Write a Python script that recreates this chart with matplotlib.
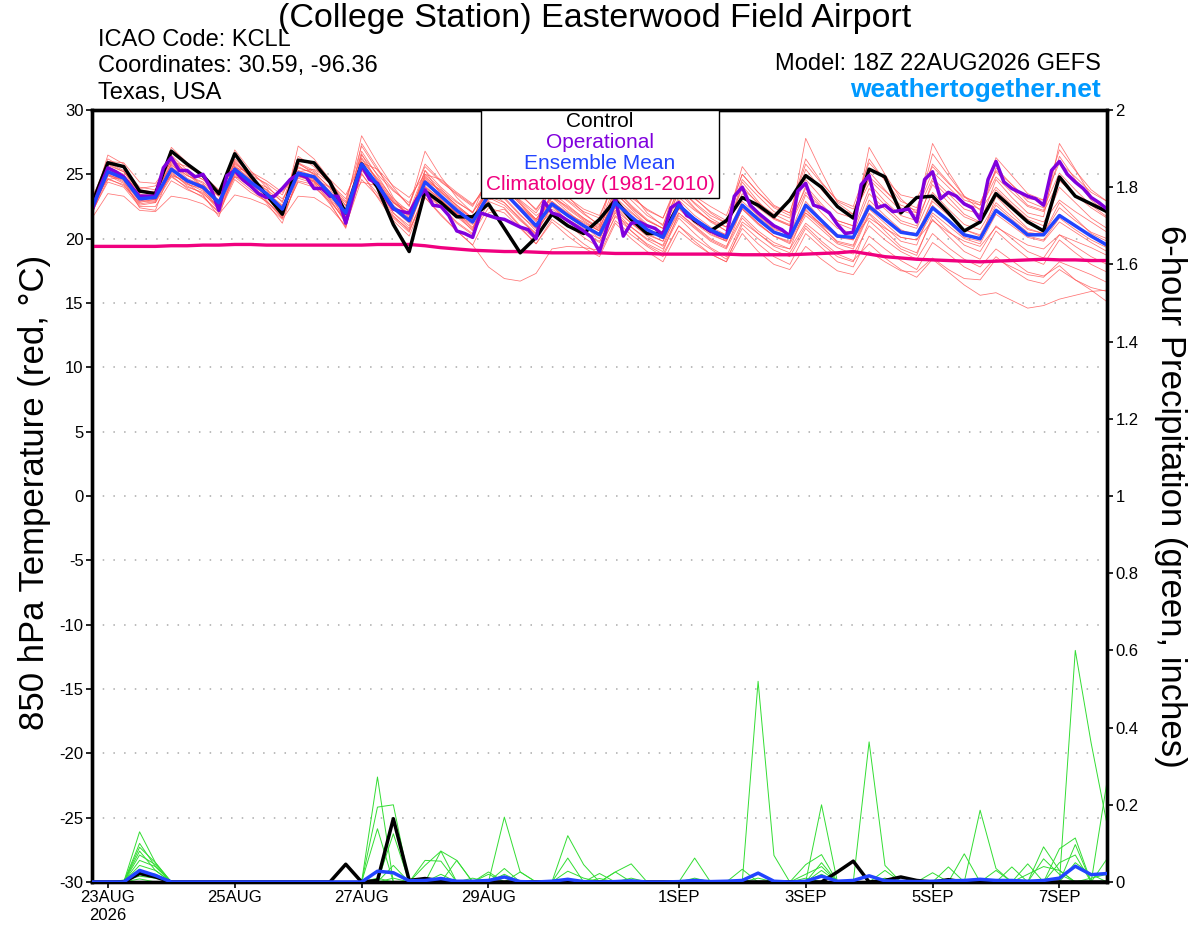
#!/usr/bin/env python3

import matplotlib
matplotlib.use("Agg")
import matplotlib.pyplot as plt
import pandas as pd
from matplotlib.patches import Rectangle

plt.rcParams["font.family"] = ["Liberation Sans", "DejaVu Sans"]

# GEFS run 18Z 22AUG2026, 6-hourly steps; operational run is 3-hourly
times = pd.date_range("2026-08-22 18:00", periods=65, freq="6h")
times_op = pd.date_range("2026-08-22 18:00", periods=129, freq="3h")

xtick_dates = ["2026-08-23", "2026-08-25", "2026-08-27", "2026-08-29",
               "2026-09-01", "2026-09-03", "2026-09-05", "2026-09-07"]
xtick_labels = ["23AUG\n2026", "25AUG", "27AUG", "29AUG",
                "1SEP", "3SEP", "5SEP", "7SEP"]
ytick_temp = [-30, -25, -20, -15, -10, -5, 0, 5, 10, 15, 20, 25, 30]
ytick_prcp = [0, 0.2, 0.4, 0.6, 0.8, 1.0, 1.2, 1.4, 1.6, 1.8, 2.0]
ytick_prcp_labels = ["0", "0.2", "0.4", "0.6", "0.8", "1",
                     "1.2", "1.4", "1.6", "1.8", "2"]

# 850 hPa temperature (C)
control = [22.7, 25.9, 25.6, 23.7, 23.5, 26.8, 25.8, 24.9, 23.5, 26.6, 24.9, 23.4, 21.9,
           26.1, 25.9, 24.4, 22.0, 25.8, 24.0, 21.1, 19.0, 23.7, 22.8, 21.7, 21.7, 22.7,
           20.8, 18.9, 20.1, 21.9, 21.0, 20.4, 21.5, 23.0, 21.5, 20.4, 20.4, 22.6, 21.4,
           20.6, 21.4, 23.2, 22.6, 21.7, 23.0, 24.9, 24.0, 22.5, 21.6, 25.4, 24.8, 22.0,
           23.2, 23.3, 22.0, 20.6, 21.3, 23.5, 22.4, 21.3, 20.6, 24.8, 23.3, 22.7, 22.1]

ens_mean = [22.4, 25.2, 24.7, 23.1, 23.2, 25.4, 24.5, 24.0, 22.8, 25.4, 24.4, 23.5, 22.3,
            25.1, 24.8, 23.5, 22.0, 25.8, 24.2, 22.4, 21.4, 24.4, 23.3, 22.2, 21.3, 23.4,
            23.6, 22.3, 21.0, 22.7, 21.8, 21.0, 20.3, 22.8, 21.7, 20.7, 20.1, 22.6, 21.5,
            20.7, 20.1, 22.6, 21.5, 20.5, 20.1, 22.6, 21.4, 20.2, 20.1, 22.5, 21.5, 20.5,
            20.3, 22.4, 21.4, 20.3, 20.0, 22.2, 21.3, 20.3, 20.3, 21.8, 21.0, 20.2, 19.5]

climatology = [19.4, 19.4, 19.4, 19.4, 19.4, 19.45, 19.45, 19.5, 19.5, 19.55, 19.55, 19.5, 19.5,
               19.5, 19.5, 19.5, 19.5, 19.5, 19.55, 19.55, 19.55, 19.45, 19.3, 19.2, 19.1, 19.05,
               19.0, 19.0, 18.95, 18.9, 18.9, 18.9, 18.9, 18.85, 18.85, 18.85, 18.8, 18.8, 18.8,
               18.8, 18.8, 18.75, 18.75, 18.75, 18.75, 18.8, 18.85, 18.9, 19.0, 18.8, 18.6, 18.5,
               18.4, 18.35, 18.3, 18.25, 18.2, 18.25, 18.3, 18.35, 18.4, 18.35, 18.35, 18.3, 18.3]

operational = [22.2, 24.0, 25.5, 25.2, 24.8, 24.0, 23.3, 23.3, 23.3, 25.5, 26.3, 25.3, 25.3,
               24.8, 25.0, 23.9, 22.2, 24.9, 25.3, 24.6, 24.1, 23.5, 23.2, 23.3, 23.9, 24.6,
               25.0, 24.8, 23.9, 23.9, 23.3, 23.3, 21.2, 23.5, 25.7, 24.6, 24.3, 23.2, 22.3,
               22.1, 22.0, 23.1, 23.8, 22.6, 22.5, 21.8, 20.6, 20.4, 20.1, 22.0, 21.8, 21.6,
               21.5, 21.2, 20.9, 20.7, 20.0, 22.9, 22.0, 21.8, 21.4, 21.0, 20.6, 20.1, 19.0,
               21.0, 23.1, 20.2, 21.2, 21.3, 21.0, 20.8, 20.3, 22.4, 22.8, 21.8, 21.5, 21.0,
               20.6, 20.3, 20.1, 23.3, 24.0, 22.6, 22.0, 21.5, 21.0, 20.7, 20.2, 23.7, 24.3,
               22.6, 22.4, 22.0, 21.1, 20.4, 20.5, 24.2, 24.9, 22.4, 22.6, 22.1, 22.2, 22.3,
               21.3, 24.6, 25.2, 23.1, 23.6, 23.3, 22.7, 22.4, 21.5, 24.6, 26.0, 24.4, 23.9,
               23.6, 23.3, 23.1, 22.6, 25.3, 26.0, 25.0, 24.4, 23.9, 23.2, 22.8, 22.3]

member_01 = [23.0, 26.2, 25.5, 24.0, 23.8, 26.5, 25.3, 24.6, 23.4, 26.2, 25.1, 24.2, 22.8, 26.4, 25.6, 24.3, 22.9,
             27.2, 25.3, 23.8, 22.6, 25.8, 24.5, 23.4, 22.5, 24.6, 24.8, 23.5, 22.2, 24.0, 23.2, 22.3, 21.8,
             24.5, 23.2, 22.3, 21.6, 24.3, 23.3, 22.5, 21.8, 25.0, 23.6, 22.5, 22.0, 25.8, 24.3, 23.0, 22.5,
             25.9, 24.6, 23.4, 23.1, 25.6, 24.3, 23.2, 22.8, 25.3, 24.2, 23.1, 23.0, 25.9, 24.8, 23.6, 22.9]
member_02 = [22.0, 24.6, 24.2, 22.6, 22.8, 24.8, 24.0, 23.6, 22.2, 24.9, 24.0, 23.0, 21.6, 24.7, 24.3, 23.0, 21.4,
             25.0, 23.5, 21.6, 20.5, 23.6, 22.5, 21.3, 20.4, 22.4, 22.0, 20.8, 19.6, 21.5, 20.6, 19.6, 18.8,
             21.4, 20.3, 19.4, 18.6, 21.0, 20.0, 19.2, 18.4, 20.8, 19.6, 18.6, 18.0, 20.4, 19.3, 18.2, 17.8,
             20.2, 19.2, 18.3, 17.6, 19.7, 18.8, 17.8, 17.2, 18.6, 17.6, 16.8, 16.5, 17.6, 16.8, 16.2, 15.9]
member_03 = [22.3, 25.6, 25.0, 23.3, 23.0, 25.9, 24.9, 24.3, 22.5, 25.7, 24.6, 23.8, 22.0, 25.6, 25.0, 23.7, 21.8,
             26.3, 24.6, 22.9, 21.8, 24.9, 23.6, 22.6, 21.6, 23.9, 23.2, 21.9, 20.6, 22.9, 21.9, 21.0, 20.0,
             22.4, 21.2, 20.2, 19.4, 21.8, 20.8, 19.8, 19.2, 21.6, 20.4, 19.4, 18.9, 21.0, 19.8, 18.8, 18.3,
             19.6, 18.5, 17.6, 17.0, 18.4, 17.4, 16.4, 15.6, 15.8, 15.2, 14.6, 14.8, 15.3, 15.6, 15.9, 16.0]
member_04 = [22.8, 25.0, 24.4, 22.9, 23.4, 25.1, 24.2, 23.9, 23.0, 25.2, 24.2, 23.4, 22.5, 24.8, 24.5, 23.3, 22.2,
             25.5, 24.0, 22.6, 21.6, 24.0, 22.9, 22.0, 21.2, 23.0, 23.4, 22.4, 21.4, 22.3, 21.5, 20.8, 20.4,
             22.2, 21.2, 20.3, 19.8, 22.0, 21.0, 20.0, 19.4, 21.8, 20.6, 19.7, 19.2, 21.2, 20.2, 19.3, 18.8,
             21.0, 19.9, 19.0, 18.4, 20.4, 19.3, 18.4, 17.8, 19.2, 18.3, 17.4, 17.1, 17.9, 16.8, 16.0, 15.1]
member_05 = [22.2, 24.9, 24.6, 22.9, 23.0, 25.2, 24.1, 23.5, 22.4, 25.0, 24.1, 23.2, 22.0, 24.9, 24.5, 23.2, 21.6,
             25.6, 23.8, 21.8, 20.6, 23.2, 21.8, 20.6, 19.5, 17.8, 16.9, 16.7, 17.3, 19.2, 19.4, 19.3, 19.1,
             21.8, 20.9, 20.0, 19.5, 22.3, 21.2, 20.3, 19.8, 22.3, 21.1, 20.2, 19.8, 22.0, 20.9, 19.8, 19.5,
             22.3, 21.2, 20.1, 19.9, 22.0, 21.0, 20.0, 19.6, 21.9, 21.0, 20.1, 19.8, 21.3, 20.5, 19.7, 19.0]
member_06 = [22.5, 26.5, 25.8, 23.5, 23.0, 27.1, 25.9, 24.8, 22.6, 26.9, 25.3, 24.0, 21.8, 27.2, 26.2, 24.6, 22.5,
             28.0, 25.9, 24.0, 22.5, 26.8, 24.8, 23.2, 22.0, 24.8, 24.3, 22.8, 21.5, 23.4, 22.4, 21.5, 20.8,
             23.8, 22.5, 21.4, 20.8, 23.6, 22.3, 21.4, 20.6, 24.1, 22.7, 21.6, 21.1, 27.8, 25.2, 22.8, 21.9,
             24.3, 22.9, 21.8, 21.4, 24.2, 22.8, 21.7, 21.2, 24.6, 23.2, 22.0, 21.7, 27.4, 25.4, 23.3, 21.9]
member_07 = [22.6, 25.5, 24.9, 23.6, 23.7, 25.7, 24.9, 24.4, 23.3, 26.0, 24.7, 23.8, 22.9, 25.5, 25.1, 24.0, 22.6,
             26.0, 24.7, 23.1, 22.1, 25.3, 24.0, 22.9, 22.0, 24.0, 23.9, 22.7, 21.5, 23.2, 22.5, 21.6, 20.9,
             23.5, 22.4, 21.4, 20.8, 23.2, 22.2, 21.4, 20.9, 23.5, 22.4, 21.5, 21.0, 23.6, 22.4, 21.4, 21.0,
             27.1, 25.0, 23.1, 22.0, 27.4, 25.2, 23.3, 22.2, 24.0, 22.8, 21.7, 21.3, 23.0, 22.1, 21.3, 20.5]
member_08 = [22.1, 24.4, 24.0, 22.5, 22.5, 24.5, 23.8, 23.3, 22.0, 24.6, 23.6, 22.9, 21.8, 24.4, 24.0, 22.9, 21.4,
             25.3, 23.9, 22.0, 21.0, 24.0, 23.1, 21.9, 20.8, 23.2, 22.6, 21.4, 20.4, 22.5, 21.4, 20.4, 19.7,
             22.1, 20.9, 19.9, 19.2, 21.6, 20.4, 19.3, 18.6, 21.3, 20.4, 19.5, 19.2, 22.3, 21.0, 19.7, 19.4,
             22.0, 20.9, 19.8, 19.5, 22.6, 21.3, 20.1, 19.8, 23.3, 22.0, 20.8, 20.4, 22.8, 21.6, 20.4, 19.8]
member_09 = [23.2, 25.8, 25.2, 23.9, 24.1, 26.0, 25.1, 24.6, 23.7, 25.8, 24.9, 24.3, 23.4, 25.9, 25.3, 24.3, 23.1,
             26.5, 25.0, 23.7, 22.8, 25.6, 24.4, 23.5, 22.6, 24.5, 24.6, 23.4, 22.3, 24.0, 23.0, 22.1, 21.6,
             24.9, 23.4, 22.2, 21.6, 24.6, 23.1, 22.1, 21.4, 25.0, 23.6, 22.4, 21.8, 24.6, 23.2, 22.0, 21.6,
             24.8, 23.7, 22.6, 22.2, 25.2, 24.0, 22.8, 22.3, 24.8, 23.6, 22.5, 22.1, 24.5, 23.4, 22.4, 21.6]
member_10 = [22.9, 24.6, 24.8, 23.8, 23.6, 24.9, 24.5, 24.2, 23.3, 24.8, 24.5, 24.0, 23.1, 24.9, 24.6, 24.0, 22.8,
             24.4, 24.1, 22.8, 22.2, 24.5, 23.8, 22.8, 22.1, 23.6, 23.9, 22.9, 21.8, 22.6, 21.9, 21.3, 20.6,
             22.9, 22.0, 21.0, 20.5, 22.4, 21.6, 20.7, 20.3, 22.5, 21.7, 20.7, 20.4, 22.0, 21.1, 20.3, 20.1,
             21.6, 20.8, 20.1, 19.9, 21.4, 20.5, 19.8, 19.4, 20.9, 20.2, 19.5, 19.2, 20.3, 19.8, 19.3, 18.7]
member_11 = [21.9, 25.0, 24.5, 22.4, 22.2, 25.5, 24.3, 23.4, 21.7, 25.3, 24.1, 22.8, 21.2, 25.0, 24.4, 22.8, 20.8,
             26.0, 24.0, 22.0, 20.8, 24.5, 23.0, 21.7, 20.7, 23.8, 22.8, 21.5, 20.3, 23.2, 22.1, 21.1, 20.4,
             23.6, 22.3, 21.1, 20.4, 23.8, 22.4, 21.3, 20.6, 24.4, 22.9, 21.6, 21.0, 24.1, 22.7, 21.4, 21.0,
             25.2, 23.8, 22.4, 22.0, 24.7, 23.5, 22.3, 21.9, 25.5, 24.2, 22.9, 22.4, 25.1, 23.8, 22.6, 21.7]
member_12 = [22.4, 24.7, 24.1, 22.8, 23.1, 24.9, 23.9, 23.2, 22.1, 24.8, 23.8, 22.9, 21.6, 24.5, 24.2, 22.7, 20.9,
             25.1, 23.2, 21.4, 20.2, 23.2, 21.9, 20.6, 19.5, 22.0, 22.3, 20.9, 19.6, 21.3, 20.2, 19.3, 18.6,
             21.2, 20.0, 19.0, 18.2, 20.6, 19.6, 18.8, 18.2, 21.1, 20.0, 19.1, 18.6, 20.8, 19.6, 18.6, 18.2,
             21.4, 20.3, 19.2, 18.7, 21.8, 20.6, 19.5, 19.0, 21.0, 20.0, 19.0, 18.5, 20.3, 19.4, 18.6, 18.0]
member_13 = [22.7, 25.3, 24.9, 23.4, 23.5, 25.8, 24.7, 24.1, 23.0, 25.6, 24.6, 23.6, 22.5, 25.3, 24.9, 23.5, 22.2,
             26.2, 24.5, 22.8, 21.8, 24.8, 23.7, 22.6, 21.6, 23.9, 24.0, 22.7, 21.3, 23.3, 22.3, 21.4, 20.6,
             23.2, 22.1, 21.0, 20.4, 23.0, 21.8, 20.9, 20.3, 22.9, 21.8, 20.8, 20.3, 23.4, 22.0, 20.8, 20.4,
             23.5, 22.3, 21.2, 20.8, 23.6, 22.3, 21.1, 20.7, 22.8, 21.7, 20.7, 20.4, 22.4, 21.4, 20.5, 20.0]
member_14 = [22.0, 25.4, 24.8, 23.0, 22.8, 25.6, 24.6, 23.8, 22.3, 25.6, 24.3, 23.3, 21.8, 25.2, 24.6, 23.1, 21.2,
             26.6, 24.4, 22.5, 21.3, 24.6, 23.3, 22.0, 20.9, 23.3, 22.8, 21.6, 20.4, 22.6, 21.4, 20.4, 19.8,
             22.0, 20.6, 19.5, 18.8, 21.0, 19.8, 18.8, 18.2, 20.4, 19.0, 18.0, 17.6, 19.4, 18.4, 17.5, 17.2,
             19.0, 18.2, 17.5, 17.4, 18.5, 17.6, 16.9, 16.8, 18.4, 17.8, 17.2, 17.0, 18.2, 17.7, 17.2, 16.6]
member_15 = [22.5, 25.9, 25.3, 23.2, 23.3, 26.1, 25.2, 24.0, 22.6, 25.9, 24.8, 23.5, 22.0, 25.8, 25.2, 23.9, 21.9,
             26.8, 24.9, 23.0, 21.9, 25.0, 23.9, 22.5, 21.5, 24.2, 23.7, 22.2, 20.9, 23.6, 22.6, 21.6, 20.7,
             23.9, 22.6, 21.5, 20.8, 24.0, 22.7, 21.6, 20.9, 23.9, 22.8, 21.9, 21.3, 23.9, 22.5, 21.2, 20.7,
             23.9, 22.6, 21.4, 21.0, 24.5, 23.2, 21.9, 21.3, 23.8, 22.6, 21.5, 21.0, 24.0, 22.8, 21.6, 20.8]
member_16 = [22.3, 24.9, 24.3, 22.7, 22.9, 25.0, 24.3, 23.7, 22.4, 25.1, 24.0, 23.2, 22.1, 24.9, 24.4, 23.4, 21.7,
             25.4, 23.9, 22.3, 21.2, 24.1, 23.0, 21.9, 21.1, 23.6, 23.1, 21.8, 20.8, 22.1, 21.3, 20.6, 20.0,
             22.5, 21.4, 20.4, 19.8, 22.5, 21.3, 20.4, 19.8, 22.6, 21.4, 20.5, 20.0, 22.2, 21.1, 20.1, 19.9,
             22.7, 21.6, 20.6, 20.4, 22.9, 21.8, 20.7, 20.3, 22.6, 21.5, 20.5, 20.3, 21.9, 21.0, 20.2, 19.4]
member_17 = [22.9, 26.0, 25.9, 24.4, 24.3, 26.0, 25.6, 24.9, 23.8, 25.5, 25.2, 24.5, 23.6, 25.2, 25.4, 24.6, 23.4,
             25.9, 25.4, 24.1, 23.2, 25.0, 24.6, 23.6, 22.7, 24.1, 24.2, 23.0, 22.0, 23.8, 22.9, 21.9, 21.1,
             24.2, 23.0, 21.8, 21.1, 23.9, 22.8, 21.8, 21.2, 24.6, 23.3, 22.1, 21.6, 25.4, 23.8, 22.4, 21.9,
             26.2, 24.5, 22.9, 22.4, 25.8, 24.4, 23.0, 22.6, 26.3, 24.9, 23.5, 23.0, 26.9, 25.3, 23.8, 22.9]
member_18 = [21.6, 23.5, 23.3, 22.2, 22.1, 23.3, 23.1, 22.7, 21.9, 23.4, 23.1, 22.6, 21.5, 23.3, 23.2, 22.4, 21.0,
             24.6, 23.3, 21.7, 20.7, 23.4, 22.5, 21.2, 20.3, 22.9, 22.4, 21.0, 19.9, 22.0, 21.1, 20.1, 19.3,
             21.7, 20.6, 19.6, 19.0, 22.0, 20.9, 19.9, 19.3, 22.4, 21.2, 20.2, 19.7, 22.9, 21.5, 20.3, 19.9,
             23.0, 21.8, 20.7, 20.2, 23.1, 21.9, 20.7, 20.2, 22.3, 21.2, 20.2, 19.9, 21.6, 20.7, 19.9, 19.3]
member_19 = [22.4, 25.7, 25.2, 23.7, 23.4, 26.4, 25.0, 24.0, 22.3, 26.1, 24.8, 23.4, 21.7, 25.9, 25.0, 23.6, 21.2,
             27.4, 25.5, 23.2, 21.6, 25.3, 23.4, 21.9, 20.6, 24.4, 23.8, 22.2, 20.8, 24.6, 23.3, 22.0, 21.0,
             25.3, 23.6, 22.0, 21.0, 24.8, 23.2, 22.0, 21.2, 25.6, 24.0, 22.6, 22.0, 26.2, 24.4, 22.9, 22.3,
             24.6, 23.4, 22.2, 21.8, 26.6, 24.9, 23.3, 22.6, 25.2, 23.9, 22.6, 22.2, 26.4, 24.6, 23.0, 22.0]
member_20 = [22.6, 25.1, 24.6, 23.2, 23.3, 25.3, 24.4, 23.9, 22.9, 25.3, 24.3, 23.6, 22.6, 25.0, 24.7, 23.5, 22.3,
             25.7, 24.3, 22.8, 21.9, 24.7, 23.6, 22.4, 21.6, 23.1, 23.6, 22.5, 21.5, 22.9, 22.0, 21.2, 20.6,
             23.1, 21.8, 20.7, 20.0, 22.7, 21.5, 20.5, 19.9, 22.3, 21.2, 20.2, 19.6, 21.8, 20.7, 19.6, 19.2,
             21.9, 20.6, 19.4, 18.9, 21.5, 20.2, 19.0, 18.4, 20.6, 19.5, 18.5, 18.0, 19.9, 18.9, 18.0, 17.4]

# 6-hour precipitation (inches)
control_prcp = [0, 0, 0, 0.022, 0.013, 0, 0, 0, 0, 0, 0, 0, 0,
                0, 0, 0, 0.046, 0, 0.004, 0.164, 0.004, 0.009, 0.003, 0, 0, 0,
                0, 0, 0, 0, 0, 0, 0, 0, 0, 0, 0, 0, 0,
                0, 0, 0, 0, 0, 0, 0, 0, 0.026, 0.054, 0, 0.004, 0.013,
                0.004, 0, 0.006, 0, 0, 0, 0, 0, 0, 0, 0, 0, 0]
mean_prcp = [0, 0, 0, 0.030, 0.017, 0, 0, 0, 0, 0, 0, 0, 0,
             0, 0, 0, 0, 0, 0.028, 0.024, 0.003, 0.004, 0.009, 0.002, 0.002, 0.004,
             0.013, 0.001, 0, 0.002, 0.007, 0.001, 0, 0.001, 0.003, 0, 0, 0.001, 0.004,
             0.001, 0.002, 0.004, 0.023, 0.002, 0, 0.002, 0.015, 0.002, 0.004, 0.016, 0.003, 0.002,
             0.001, 0.002, 0.003, 0.004, 0.007, 0.004, 0.004, 0.002, 0.004, 0.010, 0.041, 0.019, 0.022]

prcp_01 = [0, 0, 0, 0.13, 0.05, 0, 0, 0, 0, 0, 0, 0, 0,
           0, 0, 0, 0, 0, 0.272, 0, 0, 0, 0, 0, 0, 0,
           0.168, 0.026, 0, 0, 0, 0, 0, 0, 0, 0, 0, 0, 0,
           0, 0, 0, 0.52, 0.069, 0, 0, 0, 0, 0, 0, 0, 0,
           0, 0, 0, 0, 0, 0, 0, 0, 0, 0, 0.6, 0.36, 0.15]
prcp_02 = [0, 0, 0, 0.10, 0.04, 0, 0, 0, 0, 0, 0, 0, 0,
           0, 0, 0, 0, 0, 0.194, 0.2, 0, 0, 0.08, 0.056, 0, 0,
           0, 0, 0, 0, 0.12, 0.045, 0, 0, 0, 0, 0, 0, 0,
           0, 0, 0, 0, 0, 0, 0, 0.2, 0, 0, 0, 0, 0,
           0, 0, 0, 0, 0.186, 0.035, 0, 0, 0, 0, 0, 0, 0]
prcp_03 = [0, 0, 0, 0.09, 0.05, 0, 0, 0, 0, 0, 0, 0, 0,
           0, 0, 0, 0, 0, 0.138, 0, 0, 0.056, 0.054, 0, 0, 0,
           0, 0, 0, 0, 0, 0, 0, 0.026, 0.047, 0, 0, 0, 0,
           0, 0, 0, 0, 0, 0, 0, 0, 0, 0, 0.363, 0.043, 0,
           0, 0, 0, 0, 0, 0, 0, 0, 0.091, 0.03, 0, 0, 0]
prcp_04 = [0, 0, 0, 0.08, 0.03, 0, 0, 0, 0, 0, 0, 0, 0,
           0, 0, 0, 0, 0, 0, 0.125, 0, 0.043, 0.08, 0, 0, 0,
           0.035, 0, 0, 0, 0, 0, 0, 0, 0, 0, 0, 0, 0.062,
           0, 0, 0, 0, 0, 0, 0.045, 0.071, 0, 0, 0, 0, 0,
           0, 0, 0, 0.073, 0, 0, 0, 0, 0, 0.086, 0.114, 0, 0]
prcp_05 = [0, 0, 0, 0.07, 0.045, 0, 0, 0, 0, 0, 0, 0, 0,
           0, 0, 0, 0, 0, 0, 0.043, 0, 0, 0, 0.056, 0, 0.026,
           0, 0, 0, 0, 0.062, 0, 0, 0, 0, 0, 0, 0, 0,
           0, 0, 0.033, 0, 0, 0, 0, 0.05, 0, 0, 0, 0, 0,
           0, 0, 0.039, 0, 0, 0, 0, 0.047, 0, 0, 0.097, 0, 0.26]
prcp_06 = [0, 0, 0, 0.056, 0.04, 0, 0, 0, 0, 0, 0, 0, 0,
           0, 0, 0, 0, 0, 0, 0, 0, 0, 0.02, 0, 0, 0,
           0.02, 0, 0, 0, 0.028, 0.01, 0, 0.026, 0, 0, 0, 0, 0,
           0, 0, 0, 0, 0, 0, 0.02, 0.04, 0, 0, 0, 0.03, 0,
           0, 0.024, 0, 0, 0, 0, 0.039, 0, 0.06, 0.02, 0, 0, 0.06]
prcp_07 = [0, 0, 0, 0.043, 0.03, 0, 0, 0, 0, 0, 0, 0, 0,
           0, 0, 0, 0, 0, 0.01, 0, 0, 0, 0, 0, 0, 0.02,
           0, 0.026, 0, 0, 0, 0, 0.022, 0, 0, 0, 0, 0, 0,
           0, 0, 0, 0, 0, 0, 0, 0.03, 0, 0, 0, 0, 0,
           0, 0, 0, 0, 0, 0.03, 0, 0, 0, 0.05, 0.07, 0, 0]
prcp_08 = [0, 0, 0, 0.026, 0.02, 0, 0, 0, 0, 0, 0, 0, 0,
           0, 0, 0, 0, 0, 0, 0.01, 0, 0.01, 0, 0, 0, 0,
           0.015, 0, 0, 0, 0, 0, 0, 0, 0, 0, 0, 0, 0.01,
           0, 0, 0, 0.01, 0, 0, 0.01, 0, 0, 0, 0, 0, 0,
           0, 0, 0, 0, 0, 0, 0, 0.02, 0.04, 0.03, 0, 0, 0]
prcp_09 = [0, 0, 0.005, 0.015, 0.01, 0, 0, 0, 0, 0, 0, 0, 0,
           0, 0, 0, 0, 0, 0, 0, 0, 0, 0.01, 0, 0.01, 0,
           0, 0, 0, 0, 0, 0, 0, 0, 0, 0, 0, 0, 0,
           0, 0, 0, 0, 0, 0, 0, 0.02, 0, 0, 0, 0.01, 0,
           0, 0, 0, 0, 0, 0, 0, 0, 0, 0, 0.05, 0.02, 0]
prcp_10 = [0, 0, 0, 0.008, 0, 0, 0, 0, 0, 0, 0, 0, 0,
           0, 0, 0, 0, 0, 0, 0, 0, 0, 0, 0, 0, 0,
           0, 0, 0, 0, 0, 0, 0.009, 0, 0.01, 0, 0, 0, 0,
           0, 0, 0, 0, 0, 0, 0, 0, 0, 0, 0, 0, 0,
           0.005, 0, 0, 0, 0, 0, 0, 0, 0, 0, 0, 0.01, 0.02]

members = [member_01, member_02, member_03, member_04, member_05, member_06,
           member_07, member_08, member_09, member_10, member_11, member_12,
           member_13, member_14, member_15, member_16, member_17, member_18,
           member_19, member_20]
prcp_members = [prcp_01, prcp_02, prcp_03, prcp_04, prcp_05,
                prcp_06, prcp_07, prcp_08, prcp_09, prcp_10]

c_red = "#ff5050"
c_green = "#33dd33"
c_oper = "#8000dd"
c_mean = "#2244ff"
c_clim = "#f0007f"
c_web = "#0099ff"


def main():

    fig = plt.figure(figsize=(12, 9.27), dpi=100)
    ax = fig.add_axes([92 / 1200, 1 - 882 / 927, 1015 / 1200, 772 / 927])

    for m in members:
        ax.plot(times, m, color=c_red, linewidth=0.55, alpha=0.8, zorder=2)
    ax.plot(times, climatology, color=c_clim, linewidth=2.4, zorder=3)
    ax.plot(times, control, color="black", linewidth=2.5, zorder=4)
    ax.plot(times_op, operational, color=c_oper, linewidth=2.5, zorder=5)
    ax.plot(times, ens_mean, color=c_mean, linewidth=2.5, zorder=6)

    ax.set_ylim(-30, 30)
    ax.set_xlim(times[0], times[-1])
    ax.set_yticks(ytick_temp)
    ax.set_yticklabels([str(t) for t in ytick_temp])
    ax.set_xticks(pd.to_datetime(xtick_dates))
    ax.set_xticklabels(xtick_labels)
    ax.grid(True, axis="y", color="#aaaaaa", linestyle=(0, (1, 6)), linewidth=1.1)
    ax.tick_params(labelsize=12, direction="out", length=4, width=1.2, pad=2)
    for s in ax.spines.values():
        s.set_linewidth(2.4)

    ax2 = ax.twinx()
    for p in prcp_members:
        ax2.plot(times, p, color=c_green, linewidth=0.7, zorder=2)
    ax2.plot(times, control_prcp, color="black", linewidth=2.5, zorder=4)
    ax2.plot(times, mean_prcp, color=c_mean, linewidth=2.5, zorder=5)
    ax2.set_ylim(0, 2)
    ax2.set_yticks(ytick_prcp)
    ax2.set_yticklabels(ytick_prcp_labels)
    ax2.tick_params(labelsize=12, direction="out", length=4, width=1.2, pad=2)
    for s in ax2.spines.values():
        s.set_linewidth(2.4)

    # legend box hanging from the top of the plot
    x0 = (481 - 92) / 1015
    x1 = (719 - 92) / 1015
    y0 = (882 - 198) / 772
    ax2.add_patch(Rectangle((x0, y0), x1 - x0, 1 - y0, transform=ax2.transAxes,
                            facecolor="white", edgecolor="black", linewidth=1.0,
                            zorder=20, clip_on=False))
    xc = (x0 + x1) / 2
    legend_rows = [("Control", "black"), ("Operational", c_oper),
                   ("Ensemble Mean", c_mean), ("Climatology (1981-2010)", c_clim)]
    for k, (txt, col) in enumerate(legend_rows):
        ypix = 121 + k * 21.3
        ax2.text(xc, (882 - ypix) / 772, txt, color=col, fontsize=15,
                 ha="center", va="center", transform=ax2.transAxes, zorder=21)

    fig.text(595 / 1200, 1 - 18 / 927, "(College Station) Easterwood Field Airport",
             fontsize=24.5, ha="center", va="center")
    fig.text(98 / 1200, 1 - 40 / 927, "ICAO Code: KCLL", fontsize=17, va="center")
    fig.text(98 / 1200, 1 - 66 / 927, "Coordinates: 30.59, -96.36", fontsize=17, va="center")
    fig.text(98 / 1200, 1 - 93 / 927, "Texas, USA", fontsize=17, va="center")
    fig.text(1101 / 1200, 1 - 64 / 927, "Model: 18Z 22AUG2026 GEFS", fontsize=17,
             ha="right", va="center")
    fig.text(1101 / 1200, 1 - 90 / 927, "weathertogether.net", fontsize=19,
             fontweight="bold", color=c_web, ha="right", va="center")

    fig.text(35 / 1200, 1 - 492 / 927, "850 hPa Temperature (red, °C)",
             fontsize=25, rotation=90, ha="center", va="center")
    fig.text(1170 / 1200, 1 - 496 / 927, "6-hour Precipitation (green, inches)",
             fontsize=25, rotation=270, ha="center", va="center")

    fig.savefig("out.png", dpi=100)


if __name__ == "__main__":
    main()
